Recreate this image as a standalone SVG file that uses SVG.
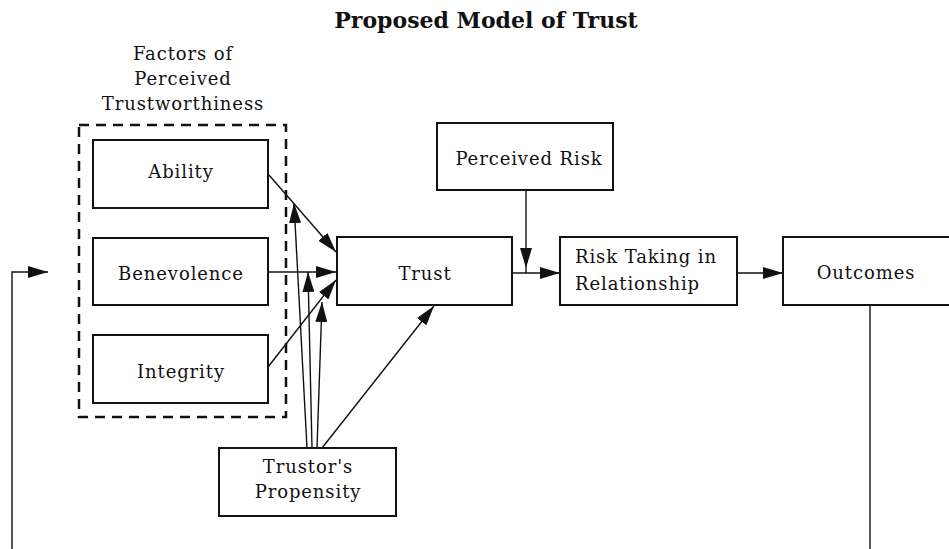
<svg xmlns="http://www.w3.org/2000/svg" width="949" height="549" viewBox="0 0 949 549">
<style>
.box{fill:#fff;stroke:#111;stroke-width:2}
.lbl{font-family:"DejaVu Serif","Liberation Serif",serif;font-size:18px;letter-spacing:0.9px;fill:#111}
.c{text-anchor:middle}
.ln{fill:none;stroke:#111;stroke-width:1.4}
.dash{fill:none;stroke:#111;stroke-width:2.5;stroke-dasharray:10,7}
</style>
<defs>
<marker id="ah" markerUnits="userSpaceOnUse" markerWidth="20" markerHeight="12" refX="20" refY="6" orient="auto">
<path d="M0,0 L20,6 L0,12 z" fill="#111"/>
</marker>
</defs>
<rect width="949" height="549" fill="#fff"/>
<text x="486" y="28" class="c" style="font-family:'DejaVu Serif','Liberation Serif',serif;font-size:22px;font-weight:bold;fill:#111">Proposed Model of Trust</text>
<g id="factors-label">
<text class="lbl c" x="183" y="60">Factors of</text>
<text class="lbl c" x="183" y="85">Perceived</text>
<text class="lbl c" x="183" y="110">Trustworthiness</text>
</g>
<g id="factors-group"><rect class="dash" x="79" y="125" width="207" height="292"/></g>
<g id="ability"><rect class="box" x="93" y="140" width="175" height="68"/><text class="lbl c" x="181" y="178">Ability</text></g>
<g id="benevolence"><rect class="box" x="93" y="238" width="175" height="67"/><text class="lbl c" x="181" y="280">Benevolence</text></g>
<g id="integrity"><rect class="box" x="93" y="335" width="175" height="68"/><text class="lbl c" x="181" y="378">Integrity</text></g>
<g id="trust"><rect class="box" x="337" y="237" width="175" height="68"/><text class="lbl c" x="425" y="280">Trust</text></g>
<g id="perceived-risk"><rect class="box" x="437" y="123" width="176" height="67"/><text class="lbl c" x="529" y="165">Perceived Risk</text></g>
<g id="risk-taking"><rect class="box" x="560" y="237" width="177" height="68"/><text class="lbl" x="575" y="263">Risk Taking in</text><text class="lbl" x="575" y="290">Relationship</text></g>
<g id="outcomes"><rect class="box" x="783" y="237" width="180" height="68"/><text class="lbl c" x="866" y="279">Outcomes</text></g>
<g id="propensity"><rect class="box" x="219" y="448" width="177" height="68"/><text class="lbl c" x="308" y="473">Trustor's</text><text class="lbl c" x="308" y="498">Propensity</text></g>
<g id="connectors">
<path class="ln" d="M269,175 L336,252" marker-end="url(#ah)"/>
<path class="ln" d="M268,272 L336,272" marker-end="url(#ah)"/>
<path class="ln" d="M268,367 L336,280" marker-end="url(#ah)"/>
<path class="ln" d="M307,448 L294,203" marker-end="url(#ah)"/>
<path class="ln" d="M312,448 L308,272" marker-end="url(#ah)"/>
<path class="ln" d="M317,448 L322,302" marker-end="url(#ah)"/>
<path class="ln" d="M322,448 L434,306" marker-end="url(#ah)"/>
<path class="ln" d="M526,190 L526,268" marker-end="url(#ah)"/>
<path class="ln" d="M526,268 L526,273"/>
<path class="ln" d="M512,273 L560,273" marker-end="url(#ah)"/>
<path class="ln" d="M737,273 L783,273" marker-end="url(#ah)"/>
<path class="ln" d="M870,305 L870,549"/>
<path class="ln" d="M12,549 L12,272 L48,272" marker-end="url(#ah)"/>
</g>
</svg>
